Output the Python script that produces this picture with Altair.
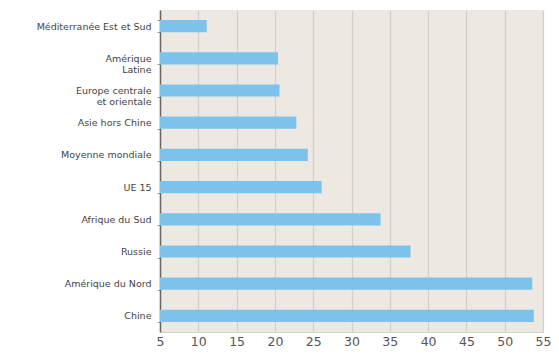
import altair as alt
import pandas as pd

regions = ["Méditerranée Est et Sud", "Amérique|Latine", "Europe centrale|et orientale",
           "Asie hors Chine", "Moyenne mondiale", "UE 15", "Afrique du Sud",
           "Russie", "Amérique du Nord", "Chine"]
values = [11.1, 20.4, 20.6, 22.8, 24.3, 26.1, 33.8, 37.7, 53.6, 53.8]
x_ticks = [5, 10, 15, 20, 25, 30, 35, 40, 45, 50, 55]

df = pd.DataFrame({"region": regions, "value": values})

chart = alt.Chart(df).mark_bar(color="#7cc3ec").encode(
    y=alt.Y("region:N", sort=regions, title=None,
            scale=alt.Scale(paddingInner=0.62, paddingOuter=0.31),
            axis=alt.Axis(labelExpr="split(datum.label, '|')", labelFont="DejaVu Sans",
                          labelFontSize=9.5, labelColor="#444", labelPadding=6,
                          labelLineHeight=11,
                          domainColor="#666", domainWidth=1.5, tickColor="#999",
                          tickSize=3, tickBand="extent", grid=False)),
    x=alt.X("value:Q", title=None,
            scale=alt.Scale(domain=[5, 55], zero=False, nice=False),
            axis=alt.Axis(values=x_ticks, labelFont="DejaVu Sans", labelFontSize=12.5,
                          labelColor="#555", labelPadding=3, domain=True,
                          domainColor="#d8d2cb", tickSize=0, gridColor="#d4cfc9",
                          gridWidth=1.2, labelFlush=False)),
    x2=alt.datum(5),
).properties(
    width=383, height=322,
    autosize=alt.AutoSizeParams(type="none"),
    padding={"left": 152, "top": 2, "right": 8, "bottom": 18},
).configure_view(fill="#ede8e2", stroke=None)

chart.save("out.html", embed_options={"renderer": "svg", "actions": False})
